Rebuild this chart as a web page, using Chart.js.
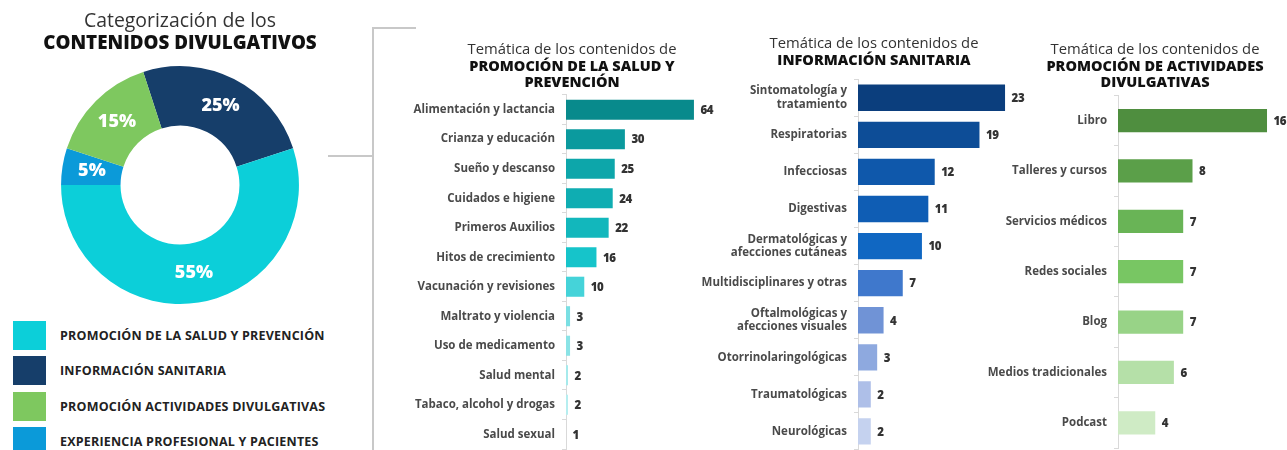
<!DOCTYPE html>
<html>
<head>
<meta charset="utf-8">
<script src="https://cdn.jsdelivr.net/npm/chart.js@4.4.1/dist/chart.umd.min.js"></script>
<style>
  html, body { margin: 0; padding: 0; background: #fff; }
  body { width: 1287px; height: 450px; position: relative; overflow: hidden; font-family: 'Open Sans', sans-serif; }
  .panel { position: absolute; top: 0; }
  .bracket { position: absolute; background: #c8c8c8; }
  #legend { position: absolute; left: 13px; top: 321px; }
  .legend-item { display: flex; align-items: center; height: 29px; margin-bottom: 6.4px; }
  .legend-box { width: 33px; height: 29px; margin-right: 14px; }
  .legend-text { font-weight: 700; font-size: 12.5px; color: #222; letter-spacing: 0.2px; }
</style>
</head>
<body>
<canvas id="donutChart" class="panel" style="left:0" width="372" height="312"></canvas>
<div id="legend"></div>

<div class="bracket" style="left:328px; top:155px; width:44px; height:1.5px"></div>
<div class="bracket" style="left:372px; top:27px; width:1.5px; height:423px"></div>
<div class="bracket" style="left:372px; top:27px; width:44px; height:1.5px"></div>

<canvas id="saludChart" class="panel" style="left:380px" width="384" height="450"></canvas>
<canvas id="infoChart" class="panel" style="left:695px" width="358" height="450"></canvas>
<canvas id="activChart" class="panel" style="left:975px" width="360" height="450"></canvas>

<script>
// Doughnut data (clockwise order from the top)
const donutLabels = ['INFORMACIÓN SANITARIA', 'PROMOCIÓN DE LA SALUD Y PREVENCIÓN', 'EXPERIENCIA PROFESIONAL Y PACIENTES', 'PROMOCIÓN ACTIVIDADES DIVULGATIVAS'];
const donutValues = [25, 55, 5, 15];
const donutColors = ['#163e6a', '#0ccfd9', '#0b9ad9', '#7ec85f'];
const legendOrder = [1, 0, 3, 2];

// Promoción de la salud y prevención
const saludLabels = ['Alimentación y lactancia', 'Crianza y educación', 'Sueño y descanso', 'Cuidados e higiene', 'Primeros Auxilios', 'Hitos de crecimiento', 'Vacunación y revisiones', 'Maltrato y violencia', 'Uso de medicamento', 'Salud mental', 'Tabaco, alcohol y drogas', 'Salud sexual'];
const saludValues = [64, 30, 25, 24, 22, 16, 10, 3, 3, 2, 2, 1];
const saludColors = ['#088a8c', '#0b9a9e', '#0da6aa', '#0fadb2', '#12b7bc', '#16c4ca', '#45d3d9', '#7adfe3', '#8ae3e6', '#a6eaec', '#b6eef0', '#c8f2f3'];

// Información sanitaria
const infoLabels = [['Sintomatología y', 'tratamiento'], 'Respiratorias', 'Infecciosas', 'Digestivas', ['Dermatológicas y', 'afecciones cutáneas'], 'Multidisciplinares y otras', ['Oftalmológicas y', 'afecciones visuales'], 'Otorrinolaringológicas', 'Traumatológicas', 'Neurológicas'];
const infoValues = [23, 19, 12, 11, 10, 7, 4, 3, 2, 2];
const infoColors = ['#0b3e7d', '#0d4d97', '#0f58ab', '#0f5db4', '#1067c2', '#3f78cc', '#7093d6', '#8ea9df', '#aebfe8', '#c5d2ef'];

// Promoción de actividades divulgativas
const activLabels = ['Libro', 'Talleres y cursos', 'Servicios médicos', 'Redes sociales', 'Blog', 'Medios tradicionales', 'Podcast'];
const activValues = [16, 8, 7, 7, 7, 6, 4];
const activColors = ['#4f8e3f', '#5b9f49', '#69b456', '#78c663', '#98d387', '#b5e0a8', '#cfebc5'];

const FONT = "'Open Sans', sans-serif";

// Percent labels inside the doughnut
const percentPlugin = {
  id: 'percentLabels',
  afterDatasetsDraw(chart) {
    const ctx = chart.ctx;
    const total = donutValues.reduce((a, b) => a + b, 0);
    chart.getDatasetMeta(0).data.forEach((arc, i) => {
      const pos = arc.tooltipPosition();
      ctx.save();
      ctx.fillStyle = '#fff';
      ctx.font = `800 18px ${FONT}`;
      ctx.textAlign = 'center';
      ctx.textBaseline = 'middle';
      ctx.fillText(Math.round((donutValues[i] / total) * 100) + '%', pos.x, pos.y);
      ctx.restore();
    });
  },
};

// Value labels at the end of bars
const valuePlugin = {
  id: 'valueLabels',
  afterDatasetsDraw(chart) {
    const ctx = chart.ctx;
    const values = chart.data.datasets[0].data;
    chart.getDatasetMeta(0).data.forEach((bar, i) => {
      ctx.save();
      ctx.fillStyle = '#333';
      ctx.font = `800 11.5px ${FONT}`;
      ctx.letterSpacing = '-0.4px';
      ctx.textAlign = 'left';
      ctx.textBaseline = 'middle';
      ctx.fillText(String(values[i]), bar.x + 6.5, bar.y + 1);
      ctx.restore();
    });
  },
};

new Chart(document.getElementById('donutChart'), {
  type: 'doughnut',
  data: {
    labels: donutLabels,
    datasets: [{ data: donutValues, backgroundColor: donutColors, borderWidth: 0 }],
  },
  options: {
    responsive: false,
    animation: false,
    rotation: -18,
    cutout: '50%',
    layout: { padding: { left: 0, right: 12, top: 0, bottom: 8 } },
    plugins: {
      legend: { display: false },
      tooltip: { enabled: false },
      title: {
        display: true,
        text: 'Categorización de los',
        color: '#333',
        font: { family: FONT, size: 19.4, weight: '400', lineHeight: 1.15 },
        padding: { top: 10.8, bottom: 0 },
      },
      subtitle: {
        display: true,
        text: 'CONTENIDOS DIVULGATIVOS',
        color: '#111',
        font: { family: FONT, size: 18.8, weight: '800', lineHeight: 1.17 },
        padding: { top: 0, bottom: 11 },
      },
    },
  },
  plugins: [percentPlugin],
});

// HTML legend built from the doughnut arrays
const legendEl = document.getElementById('legend');
legendOrder.forEach((i) => {
  const item = document.createElement('div');
  item.className = 'legend-item';
  item.innerHTML = `<div class="legend-box" style="background:${donutColors[i]}"></div><div class="legend-text">${donutLabels[i]}</div>`;
  legendEl.appendChild(item);
});

// Horizontal bar chart helper
function createBarChart(canvasId, labels, values, colors, opts) {
  return new Chart(document.getElementById(canvasId), {
    type: 'bar',
    data: {
      labels: labels,
      datasets: [
        {
          data: values,
          backgroundColor: colors,
          borderWidth: 0,
          categoryPercentage: 1,
          barPercentage: opts.barPercentage,
        },
      ],
    },
    options: {
      indexAxis: 'y',
      responsive: false,
      animation: false,
      layout: { padding: { left: 0, right: 0, top: 0, bottom: opts.bottom } },
      scales: {
        x: { display: false, min: opts.min, max: opts.max },
        y: {
          afterFit: (scale) => {
            scale.width = opts.axisWidth;
            scale.paddingTop = 0;
            scale.paddingBottom = 0;
          },
          border: { display: true, color: '#d9d9d9', width: 1 },
          grid: { drawOnChartArea: false, drawTicks: true, tickLength: 4, color: '#d9d9d9' },
          ticks: {
            color: '#4a4a4a',
            padding: 7,
            font: { family: FONT, size: 11.5, weight: '700', lineHeight: 1.15 },
          },
        },
      },
      plugins: {
        legend: { display: false },
        tooltip: { enabled: false },
        title: {
          display: true,
          text: 'Temática de los contenidos de',
          color: '#333',
          font: { family: FONT, size: 14.8, weight: '400', lineHeight: 1.2 },
          padding: { top: opts.titleTop, bottom: 0 },
        },
        subtitle: {
          display: true,
          text: opts.subtitle,
          color: '#111',
          font: { family: FONT, size: 14.5, weight: '800', lineHeight: 1.1 },
          padding: { top: 0, bottom: opts.subtitleBottom },
        },
      },
    },
    plugins: [valuePlugin],
  });
}

createBarChart('saludChart', saludLabels, saludValues, saludColors, {
  subtitle: ['PROMOCIÓN DE LA SALUD Y', 'PREVENCIÓN'],
  axisWidth: 186,
  min: 1,
  max: 98.5,
  barPercentage: 0.68,
  titleTop: 41,
  subtitleBottom: 4.3,
  bottom: 1,
});

createBarChart('infoChart', infoLabels, infoValues, infoColors, {
  subtitle: 'INFORMACIÓN SANITARIA',
  axisWidth: 163,
  min: 0,
  max: 30.5,
  barPercentage: 0.71,
  titleTop: 35,
  subtitleBottom: 10.5,
  bottom: 0,
});

createBarChart('activChart', activLabels, activValues, activColors, {
  subtitle: ['PROMOCIÓN DE ACTIVIDADES', 'DIVULGATIVAS'],
  axisWidth: 143,
  min: 0,
  max: 23.3,
  barPercentage: 0.46,
  titleTop: 41,
  subtitleBottom: 4.7,
  bottom: 2,
});
</script>
</body>
</html>
